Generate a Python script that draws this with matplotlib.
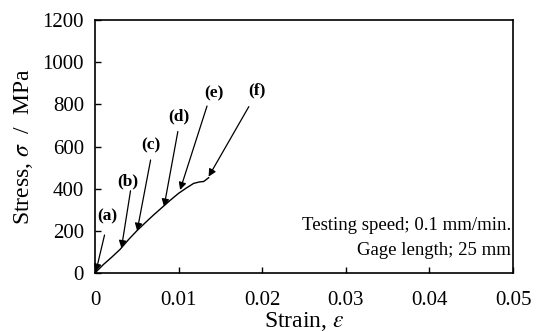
import matplotlib.pyplot as plt

plt.rcParams['font.family'] = ['Liberation Serif', 'DejaVu Serif']
plt.rcParams['mathtext.fontset'] = 'stix'

# stress-strain curve
strain = [0.0, 0.001, 0.002, 0.003, 0.004, 0.005, 0.006, 0.007, 0.008, 0.009,
          0.010, 0.011, 0.0118, 0.0125, 0.0130, 0.0136]
stress = [0, 40, 75, 112, 158, 200, 238, 275, 310, 345,
          378, 405, 425, 432, 434, 452]

labels = ['(a)', '(b)', '(c)', '(d)', '(e)', '(f)']
label_pos = [(0.00142, 270), (0.00395, 433), (0.00665, 604),
             (0.0100, 741), (0.0142, 852), (0.0194, 865)]
arrow_from = [(0.00114, 180), (0.00425, 390), (0.00665, 536),
              (0.00991, 671), (0.0134, 792), (0.0184, 789)]
arrow_to = [(0.0001, 6), (0.00316, 118), (0.00504, 200),
            (0.00826, 315), (0.01018, 394), (0.01359, 457)]

fig = plt.figure(figsize=(5.36, 3.32), dpi=100)
ax = fig.add_axes([95/536, 1-273/332, 418/536, 253/332])

ax.plot(strain, stress, color='black', lw=1.0)

for lab, lp, af, at in zip(labels, label_pos, arrow_from, arrow_to):
    ax.text(lp[0], lp[1], lab, fontsize=12.5, fontweight='bold',
            ha='center', va='center')
    ax.annotate('', xy=at, xytext=af,
                arrowprops=dict(arrowstyle='-|>', color='black', lw=0.9,
                                mutation_scale=11, shrinkA=0, shrinkB=0))

ax.text(0.0498, 204, 'Testing speed; 0.1 mm/min.', fontsize=13.5,
        ha='right', va='baseline')
ax.text(0.0498, 85, 'Gage length; 25 mm', fontsize=13.5,
        ha='right', va='baseline')

ax.set_xlim(0, 0.05)
ax.set_ylim(0, 1200)
ax.set_xticks([0, 0.01, 0.02, 0.03, 0.04, 0.05])
ax.set_xticklabels(['0', '0.01', '0.02', '0.03', '0.04', '0.05'])
ax.set_yticks([0, 200, 400, 600, 800, 1000, 1200])
ax.tick_params(direction='in', labelsize=15, length=4, width=1)
ax.tick_params(axis='x', pad=13)
ax.tick_params(axis='y', pad=8)
for s in ax.spines.values():
    s.set_linewidth(1.2)

ax.set_xlabel(r'Strain, $\varepsilon$', fontsize=17, labelpad=0)
ax.set_ylabel(r'Stress, $\sigma$  /  MPa', fontsize=17, labelpad=5)

fig.savefig('out.png', dpi=100)
